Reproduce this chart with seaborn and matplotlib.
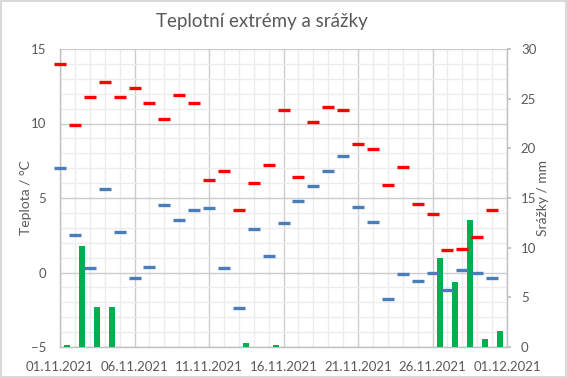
import numpy as np
import pandas as pd
import matplotlib
matplotlib.use("Agg")
import matplotlib.pyplot as plt
from matplotlib.ticker import MultipleLocator, FixedLocator, FixedFormatter
import seaborn as sns

# ---- data ----
days = list(range(30))
tmax = [14.0, 9.9, 11.8, 12.8, 11.8, 12.4, 11.4, 10.3, 11.9, 11.4,
        6.2, 6.8, 4.2, 6.0, 7.2, 10.9, 6.4, 10.1, 11.1, 10.9,
        8.6, 8.3, 5.9, 7.1, 4.6, 3.9, 1.5, 1.6, 2.4, 4.2]
tmin = [7.0, 2.5, 0.3, 5.6, 2.7, -0.4, 0.4, 4.5, 3.5, 4.2,
        4.3, 0.3, -2.4, 2.9, 1.1, 3.3, 4.8, 5.8, 6.8, 7.8,
        4.4, 3.4, -1.8, -0.1, -0.6, 0.0, -1.2, 0.2, 0.0, -0.4]
precip = [0.2, 10.2, 4.0, 4.0, 0, 0, 0, 0, 0, 0,
          0, 0, 0.4, 0, 0.2, 0, 0, 0, 0, 0,
          0, 0, 0, 0, 0, 9.0, 6.5, 12.8, 0.8, 1.6]
tick_days = [0, 5, 10, 15, 20, 25, 30]
tick_labels = ["01.11.2021", "06.11.2021", "11.11.2021", "16.11.2021",
               "21.11.2021", "26.11.2021", "01.12.2021"]

df = pd.DataFrame({"day": days, "tmax": tmax, "tmin": tmin, "precip": precip})
df["bar_pos"] = df["day"] + 0.5

sns.set_theme(style="white")
plt.rcParams["font.family"] = ["Lato", "DejaVu Sans"]
txt = "#595959"

fig = plt.figure(figsize=(5.67, 3.78), dpi=100)
fig.patch.set_facecolor("white")
fig.patch.set_edgecolor("#d9d9d9")
fig.patch.set_linewidth(1.5)

pos = [60/567, 1-347/378, (507-60)/567, (347-49)/378]
ax1 = fig.add_axes(pos)   # background: grid + left axis
ax2 = ax1.twinx()         # precipitation bars
ax3 = ax1.twinx()         # temperature dashes on top
ax1.set_zorder(0); ax2.set_zorder(1); ax3.set_zorder(2)
ax2.patch.set_visible(False); ax3.patch.set_visible(False)

# ---- plotting ----
sns.barplot(data=df, x="bar_pos", y="precip", native_scale=True, width=0.4,
            color="#00b050", saturation=1, errorbar=None, linewidth=0, ax=ax2)
sns.scatterplot(data=df, x="day", y="tmax", marker="_", s=75, linewidth=2.4,
                color="#ff0000", ax=ax3, zorder=3, clip_on=False)
sns.scatterplot(data=df, x="day", y="tmin", marker="_", s=75, linewidth=2.4,
                color="#4a7ebb", ax=ax3, zorder=3, clip_on=False)

# ---- axis styling ----
ax1.set_xlim(0, 30)
ax1.set_ylim(-5, 15)
ax1.xaxis.set_major_locator(FixedLocator(tick_days))
ax1.xaxis.set_major_formatter(FixedFormatter(tick_labels))
ax1.xaxis.set_minor_locator(MultipleLocator(1))
ax1.yaxis.set_major_locator(MultipleLocator(5))
ax1.yaxis.set_minor_locator(MultipleLocator(1))
ax1.grid(which="major", color="#cccccc", linewidth=1.0)
ax1.grid(which="minor", color="#ececec", linewidth=1.0)
ax1.set_axisbelow(True)
ax1.tick_params(axis="both", which="both", length=0, colors=txt, labelsize=9.5, pad=10)
ax1.set_ylabel("Teplota / °C", color=txt, fontsize=10)
ax1.yaxis.set_label_coords((32-60)/447, 0.5)
ax1.set_xlabel("")
for s in ["top", "right"]:
    ax1.spines[s].set_visible(False)
for s in ["left", "bottom"]:
    ax1.spines[s].set_color("#bfbfbf")
    ax1.spines[s].set_linewidth(1.0)

ax2.set_ylim(0, 30)
ax2.yaxis.set_major_locator(MultipleLocator(5))
ax2.tick_params(axis="y", which="major", length=3, color="#bfbfbf", labelcolor=txt,
                labelsize=9.5, pad=7)
ax2.tick_params(axis="x", which="both", length=0, labelbottom=False)
ax2.set_ylabel("Srážky / mm", color=txt, fontsize=10)
ax2.yaxis.set_label_coords((537-60)/447, 0.5)
ax2.set_xlabel("")
for s in ["top", "left", "bottom"]:
    ax2.spines[s].set_visible(False)
ax2.spines["right"].set_color("#bfbfbf")
ax2.spines["right"].set_linewidth(1.0)

ax3.set_ylim(-5, 15)
ax3.set_xlabel(""); ax3.set_ylabel("")
ax3.set_yticks([])
ax3.tick_params(axis="both", which="both", length=0, labelbottom=False, labelright=False)
for s in ax3.spines.values():
    s.set_visible(False)

ax1.set_xlim(0, 30)

fig.text(262/567, 1-22/378, "Teplotní extrémy a srážky", ha="center", va="center",
         fontsize=13.5, color=txt)

fig.savefig("out.png", dpi=100, facecolor="white", edgecolor=fig.patch.get_edgecolor())
